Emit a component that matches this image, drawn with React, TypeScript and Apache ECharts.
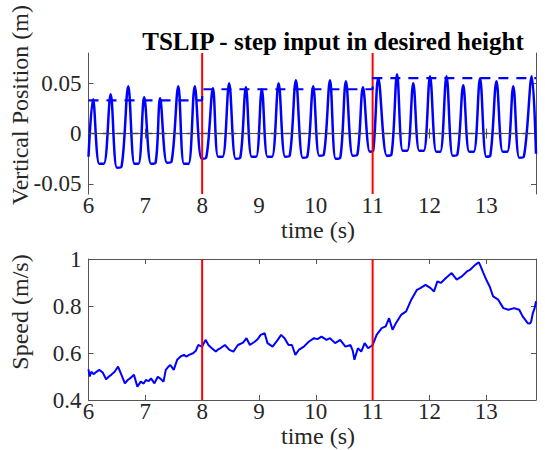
import React, { useEffect, useRef } from "react";
import * as echarts from "echarts";

const X_MIN = 6;
const X_MAX = 13.875;
const xTicks = [6, 7, 8, 9, 10, 11, 12, 13];
const posYTicks = [-0.05, 0, 0.05];
const speedYTicks = [0.4, 0.6, 0.8, 1];
const stepTimes = [8, 11];

// Vertical position (m): extrema
const posT = [6.0, 6.08, 6.19, 6.27, 6.39, 6.5, 6.58, 6.7, 6.81, 6.88, 6.98, 7.1, 7.18, 7.26, 7.38, 7.46, 7.58, 7.68, 7.76, 7.87, 7.99, 8.07, 8.19, 8.28, 8.36, 8.475, 8.59, 8.67, 8.77, 8.87, 8.95, 9.05, 9.15, 9.23, 9.345, 9.46, 9.54, 9.65, 9.77, 9.85, 9.955, 10.06, 10.14, 10.25, 10.35, 10.43, 10.53, 10.65, 10.73, 10.83, 10.95, 11.01, 11.1, 11.25, 11.33, 11.43, 11.53, 11.61, 11.715, 11.82, 11.9, 12.01, 12.12, 12.19, 12.3, 12.41, 12.49, 12.595, 12.7, 12.78, 12.89, 13.0, 13.07, 13.18, 13.29, 13.37, 13.475, 13.58, 13.66, 13.8, 13.875];
const posY = [-0.023, 0.034, -0.03, -0.03, 0.039, -0.034, -0.033, 0.047, -0.03, -0.03, 0.036, -0.03, -0.029, 0.035, -0.029, -0.028, 0.047, -0.03, -0.03, 0.047, -0.025, -0.024, 0.045, -0.023, -0.023, 0.05, -0.025, -0.024, 0.046, -0.023, -0.023, 0.044, -0.023, -0.023, 0.05, -0.023, -0.022, 0.053, -0.024, -0.023, 0.047, -0.022, -0.021, 0.053, -0.025, -0.024, 0.052, -0.022, -0.021, 0.046, -0.018, -0.017, 0.055, -0.022, -0.021, 0.059, -0.017, -0.017, 0.05, -0.017, -0.017, 0.057, -0.018, -0.018, 0.057, -0.022, -0.021, 0.048, -0.018, -0.018, 0.055, -0.023, -0.022, 0.052, -0.018, -0.018, 0.047, -0.024, -0.023, 0.057, -0.02];

// desired height (step reference)
const refT = [6, 8, 8, 11, 11, 13.875];
const refY = [0.033, 0.033, 0.044, 0.044, 0.055, 0.055];

// Speed (m/s)
const speedT = [6.0, 6.02, 6.05, 6.09, 6.14, 6.19, 6.25, 6.31, 6.36, 6.4, 6.46, 6.52, 6.58, 6.64, 6.69, 6.73, 6.8, 6.86, 6.92, 6.97, 7.01, 7.06, 7.1, 7.16, 7.22, 7.27, 7.32, 7.36, 7.4, 7.44, 7.5, 7.56, 7.62, 7.68, 7.72, 7.77, 7.84, 7.89, 7.93, 8.0, 8.06, 8.11, 8.17, 8.24, 8.28, 8.32, 8.4, 8.48, 8.55, 8.59, 8.63, 8.72, 8.78, 8.84, 8.93, 8.98, 9.03, 9.1, 9.15, 9.24, 9.33, 9.39, 9.45, 9.52, 9.58, 9.64, 9.7, 9.79, 9.88, 9.97, 10.03, 10.1, 10.19, 10.25, 10.34, 10.43, 10.52, 10.61, 10.65, 10.68, 10.74, 10.8, 10.86, 10.92, 11.0, 11.07, 11.16, 11.23, 11.29, 11.35, 11.41, 11.5, 11.59, 11.68, 11.78, 11.84, 11.93, 12.02, 12.08, 12.14, 12.2, 12.29, 12.39, 12.48, 12.57, 12.66, 12.72, 12.81, 12.87, 12.9, 12.95, 13.0, 13.06, 13.12, 13.21, 13.3, 13.39, 13.49, 13.58, 13.64, 13.73, 13.77, 13.79, 13.82, 13.85, 13.875];
const speedV = [0.53, 0.5, 0.52, 0.51, 0.52, 0.528, 0.517, 0.488, 0.5, 0.507, 0.52, 0.542, 0.507, 0.471, 0.485, 0.492, 0.507, 0.457, 0.478, 0.47, 0.485, 0.48, 0.492, 0.471, 0.499, 0.49, 0.478, 0.528, 0.54, 0.549, 0.528, 0.571, 0.585, 0.592, 0.585, 0.592, 0.599, 0.61, 0.634, 0.627, 0.656, 0.634, 0.62, 0.606, 0.615, 0.62, 0.634, 0.613, 0.606, 0.62, 0.634, 0.644, 0.663, 0.634, 0.649, 0.66, 0.677, 0.684, 0.642, 0.627, 0.656, 0.677, 0.663, 0.634, 0.634, 0.592, 0.613, 0.627, 0.649, 0.663, 0.659, 0.67, 0.656, 0.663, 0.642, 0.656, 0.627, 0.634, 0.61, 0.571, 0.62, 0.606, 0.642, 0.62, 0.634, 0.677, 0.706, 0.713, 0.748, 0.699, 0.727, 0.762, 0.777, 0.827, 0.869, 0.876, 0.89, 0.876, 0.862, 0.905, 0.898, 0.919, 0.94, 0.912, 0.926, 0.947, 0.955, 0.976, 0.986, 0.97, 0.94, 0.912, 0.883, 0.841, 0.827, 0.791, 0.784, 0.791, 0.784, 0.756, 0.727, 0.725, 0.734, 0.77, 0.79, 0.82];

const FONT = "Liberation Serif";
const TXT = "#262626";
const AXC = "#555555";

const pairs = (t: number[], v: number[]) => t.map((x, i) => [x, v[i]]);

export default function App() {
  const ref = useRef<HTMLDivElement>(null);
  useEffect(() => {
    document.body.style.margin = "0";
    const chart = echarts.init(ref.current!, null, { renderer: "svg" });
    const grids = [
      { left: 88.5, top: 53, width: 447.5, height: 141 },
      { left: 88.5, top: 259, width: 447.5, height: 141 },
    ];
    const yRanges = [
      { min: -0.06, max: 0.08, ticks: posYTicks },
      { min: 0.4, max: 1, ticks: speedYTicks },
    ];
    const xAxes: any[] = [];
    const yAxes: any[] = [];
    grids.forEach((_, g) => {
      const common = {
        type: "value",
        gridIndex: g,
        min: X_MIN,
        max: X_MAX,
        splitLine: { show: false },
        axisLine: { show: true, lineStyle: { color: AXC, width: 1 } },
        axisTick: { show: true, inside: true, length: 5, customValues: xTicks, lineStyle: { color: AXC } },
      };
      xAxes.push({
        ...common,
        position: "bottom",
        axisLabel: { show: true, customValues: xTicks, margin: 0, color: TXT, fontFamily: FONT, fontSize: 23 },
      });
      xAxes.push({ ...common, position: "top", axisLabel: { show: false } });
      const yr = yRanges[g];
      const ycommon = {
        type: "value",
        gridIndex: g,
        min: yr.min,
        max: yr.max,
        splitLine: { show: false },
        axisLine: { show: true, lineStyle: { color: AXC, width: 1 } },
        axisTick: { show: true, inside: true, length: 5, customValues: yr.ticks, lineStyle: { color: AXC } },
      };
      yAxes.push({
        ...ycommon,
        position: "left",
        axisLabel: { show: true, customValues: yr.ticks, margin: 7, color: TXT, fontFamily: FONT, fontSize: 23 },
      });
      yAxes.push({ ...ycommon, position: "right", axisLabel: { show: false } });
    });

    const lineS = (name: string, data: number[][], g: number, color: string, width: number, type: any = "solid", z = 2) => ({
      name,
      type: "line",
      xAxisIndex: g * 2,
      yAxisIndex: g * 2,
      data,
      showSymbol: false,
      symbol: "none",
      z,
      lineStyle: { color, width, type },
      silent: true,
    });

    const series: any[] = [
      { ...lineS("position", pairs(posT, posY), 0, "#0000ff", 2.5, "solid", 2), smooth: 0.35 },
      lineS("zero", [[X_MIN, 0], [X_MAX, 0]], 0, "#444444", 1.5, [8, 6], 3),
      ...stepTimes.map((t, i) => lineS("step" + i, [[t, -0.06], [t, 0.08]], 0, "#ff0000", 2, "solid", 4)),
      lineS("desired", pairs(refT, refY), 0, "#0000ff", 2.2, [10, 8], 5),
      lineS("speed", pairs(speedT, speedV), 1, "#0000ff", 2, "solid", 2),
      ...stepTimes.map((t, i) => lineS("step2" + i, [[t, 0.4], [t, 1]], 1, "#ff0000", 2, "solid", 4)),
    ];

    const txt = (text: string, x: number, y: number, size: number, rot = 0, weight = "normal", color = TXT) => ({
      type: "text",
      x,
      y,
      rotation: rot,
      style: {
        text,
        fill: color,
        fontFamily: FONT,
        fontSize: size,
        fontWeight: weight,
        align: "center",
        verticalAlign: "middle",
        textAlign: "center",
        textVerticalAlign: "middle",
      },
    });

    chart.setOption({
      animation: false,
      backgroundColor: "#ffffff",
      grid: grids,
      xAxis: xAxes,
      yAxis: yAxes,
      series,
      graphic: [
        txt("TSLIP - step input in desired height", 333, 41, 25, 0, "bold", "#000000"),
        txt("Vertical Position (m)", 20, 105, 24, Math.PI / 2),
        txt("time (s)", 318, 229.5, 24),
        txt("Speed (m/s)", 20, 312, 24, Math.PI / 2),
        txt("time (s)", 318, 436, 24),
      ],
    });
    return () => chart.dispose();
  }, []);
  return <div ref={ref} style={{ position: "fixed", left: 0, top: 0, width: 545, height: 450 }} />;
}
